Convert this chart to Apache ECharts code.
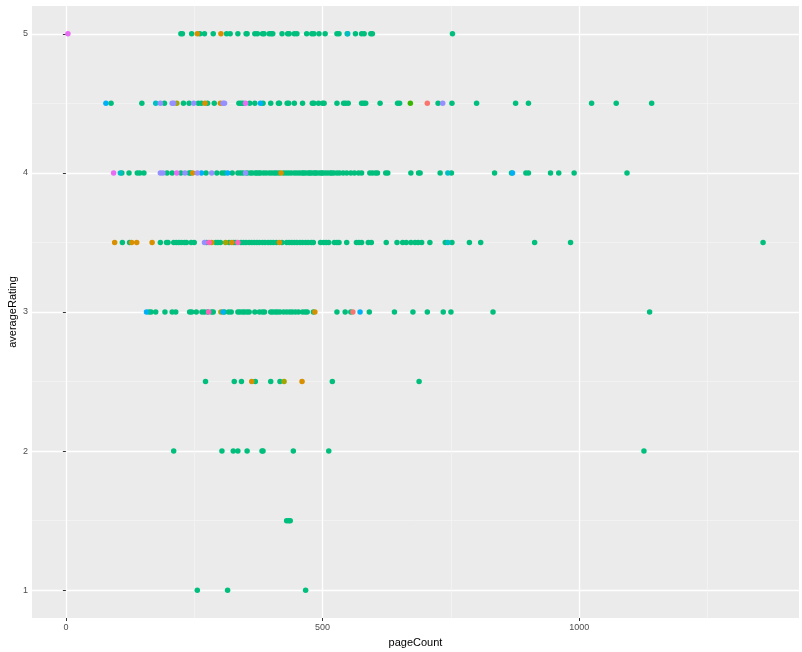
<!DOCTYPE html>
<html><head><meta charset="utf-8">
<script src="https://cdn.jsdelivr.net/npm/echarts@6/dist/echarts.min.js"></script>
<style>html,body{margin:0;padding:0;background:#fff}#c{width:802px;height:652px}</style>
</head><body><div id="c"></div>
<script>
// ---- data ----
const xTicks = [0, 500, 1000];
const xMinorTicks = [250, 750, 1250];
const yTicks = [1, 2, 3, 4, 5];
const yMinorTicks = [1.5, 2.5, 3.5, 4.5];

// main category (green) page counts by rating
const greenR5 = [224,227,245,261,270,287,313,320,335,351,353,368,373,383,386,396,400,403,421,432,435,445,450,469,479,483,493,505,528,532,548,564,576,581,594,597,753];
const greenR45 = [88,148,192,229,240,258,264,276,289,337,341,345,358,368,384,399,414,416,431,434,445,461,480,483,492,500,503,528,541,545,550,576,580,584,612,646,650,725,752,800,876,901,1024,1072,1141];
const greenR4 = [109,123,139,144,152,197,207,224,240,243,273,294,304,309,324,335,340,345,353,359,363,369,372,376,379,385,390,396,401,406,410,415,424,429,434,439,445,450,455,460,463,467,472,475,478,483,486,489,494,498,500,505,510,515,518,522,528,533,540,547,555,562,570,576,592,597,603,607,623,627,672,687,690,729,751,835,868,896,901,944,960,990,1093];
const greenR35 = [110,124,184,196,199,210,215,220,225,231,235,244,250,274,292,296,301,318,327,331,341,346,351,357,362,367,372,377,383,388,394,399,404,410,421,430,435,440,445,450,456,461,467,472,478,482,496,502,507,512,523,528,532,547,566,571,576,589,595,624,645,656,663,672,680,686,693,709,739,752,786,808,913,983,1358];
const greenR3 = [162,166,175,193,207,214,241,245,254,265,270,276,284,287,309,317,322,335,339,344,348,353,357,368,377,383,387,399,403,408,412,417,424,430,436,441,447,453,461,466,470,482,528,544,555,591,640,676,704,735,750,832,1137];
const greenR25 = [272,328,342,369,399,417,519,688];
const greenR2 = [210,304,326,335,353,382,384,443,512,1126];
const greenR15 = [430,434,437];
const greenR1 = [256,315,467];

// other categories: [pageCount, averageRating]
const catOrange = [[256,5],[302,5],[271,4.5],[301,4.5],[247,4],[419,4],[95,3.5],[128,3.5],[138,3.5],[168,3.5],[284,3.5],[323,3.5],[416,3.5],[485,3],[362,2.5],[460,2.5]];
const catOlive = [[216,4.5],[311,3.5],[302,3],[425,2.5]];
const catGreen2 = [[671,4.5]];
const catTeal = [[549,5],[175,4.5],[106,4],[744,4],[744,3.5]];
const catBlue = [[78,4.5],[379,4.5],[264,4],[315,4],[870,4],[157,3],[306,3],[573,3]];
const catPeri = [[184,4.5],[207,4.5],[210,4.5],[249,4.5],[306,4.5],[309,4.5],[734,4.5],[184,4],[189,4],[232,4],[256,4],[284,4],[350,4],[270,3.5]];
const catMagenta = [[4,5],[350,4.5],[93,4],[216,4]];
const catPink = [[279,3.5],[335,3.5],[278,3]];
const catRed = [[704,4.5],[559,3]];

// ---- build ----
const greenRows = [[5,greenR5],[4.5,greenR45],[4,greenR4],[3.5,greenR35],[3,greenR3],[2.5,greenR25],[2,greenR2],[1.5,greenR15],[1,greenR1]];
const greenData = [];
greenRows.forEach(([r, arr]) => arr.forEach(p => greenData.push([p, r])));

const groups = [
  {name:'main', color:'#00BF7D', data:greenData},
  {name:'a', color:'#D89000', data:catOrange},
  {name:'b', color:'#A3A500', data:catOlive},
  {name:'c', color:'#39B600', data:catGreen2},
  {name:'d', color:'#00BFC4', data:catTeal},
  {name:'e', color:'#00B0F6', data:catBlue},
  {name:'f', color:'#9590FF', data:catPeri},
  {name:'g', color:'#E76BF3', data:catMagenta},
  {name:'h', color:'#FF62BC', data:catPink},
  {name:'i', color:'#F8766D', data:catRed}
];

const xMin = -66, xMax = 1428, yMin = 0.8, yMax = 5.2;
const font = 'Liberation Sans, Arial, Helvetica, sans-serif';

const chart = echarts.init(document.getElementById('c'), null, {renderer:'canvas'});
chart.setOption({
  animation: false,
  backgroundColor: '#ffffff',
  grid: {left: 32, right: 3, top: 6, bottom: 34, show: true, backgroundColor: '#EBEBEB', borderWidth: 0, containLabel: false, outerBoundsMode: 'none'},
  xAxis: [
    {type:'value', min:xMin, max:xMax,
     name:'pageCount', nameLocation:'middle', nameGap:19, nameMoveOverlap:false,
     nameTextStyle:{color:'#000', fontSize:11, fontFamily:font},
     axisLine:{show:false},
     axisTick:{show:true, length:3, lineStyle:{color:'#333333', width:1}, customValues:xTicks},
     axisLabel:{color:'#4D4D4D', fontSize:9, fontFamily:font, margin:5, customValues:xTicks, formatter: v => String(v)},
     splitLine:{show:true, lineStyle:{color:'#FFFFFF', width:1.3}}},
    {type:'value', min:xMin, max:xMax, position:'bottom',
     axisLine:{show:false},
     axisTick:{show:false, customValues:xMinorTicks},
     axisLabel:{show:false, customValues:xMinorTicks},
     splitLine:{show:true, lineStyle:{color:'#F5F5F5', width:0.7}}}
  ],
  yAxis: [
    {type:'value', min:yMin, max:yMax,
     name:'averageRating', nameLocation:'middle', nameGap:14, nameRotate:90, nameMoveOverlap:false,
     nameTextStyle:{color:'#000', fontSize:11, fontFamily:font},
     axisLine:{show:false},
     axisTick:{show:true, length:3, lineStyle:{color:'#333333', width:1}, customValues:yTicks},
     axisLabel:{color:'#4D4D4D', fontSize:9, fontFamily:font, margin:4, customValues:yTicks, formatter: v => String(v)},
     splitLine:{show:true, lineStyle:{color:'#FFFFFF', width:1.3}}},
    {type:'value', min:yMin, max:yMax, position:'left',
     axisLine:{show:false},
     axisTick:{show:false, customValues:yMinorTicks},
     axisLabel:{show:false, customValues:yMinorTicks},
     splitLine:{show:true, lineStyle:{color:'#F5F5F5', width:0.7}}}
  ],
  series: groups.map(g => ({
    name: g.name, type: 'scatter', xAxisIndex: 0, yAxisIndex: 0,
    symbol: 'circle', symbolSize: 5.5,
    itemStyle: {color: g.color, opacity: 1},
    emphasis: {disabled: true},
    data: g.data
  }))
});
</script>
</body></html>
